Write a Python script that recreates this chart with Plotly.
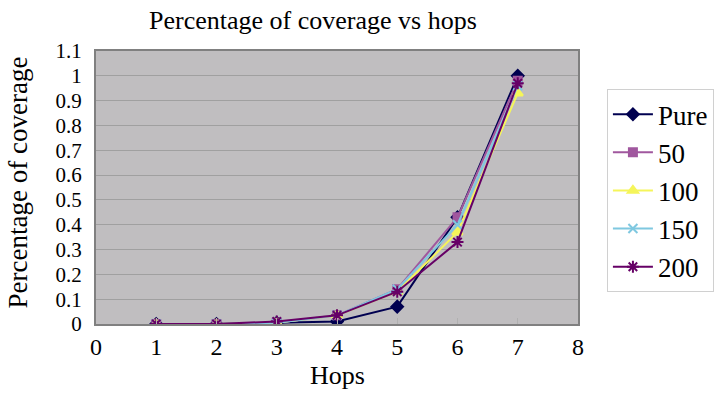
import plotly.graph_objects as go

hops = [1, 2, 3, 4, 5, 6, 7]
pure = [0, 0, 0.005, 0.01, 0.07, 0.43, 1.0]
s50 = [0, 0, 0.005, 0.035, 0.14, 0.43, 0.98]
s100 = [0, 0, 0.005, 0.035, 0.13, 0.37, 0.93]
s150 = [0, 0, 0.005, 0.035, 0.14, 0.40, 0.96]
s200 = [0, 0, 0.01, 0.035, 0.13, 0.33, 0.97]

y_ticks = [0, 0.1, 0.2, 0.3, 0.4, 0.5, 0.6, 0.7, 0.8, 0.9, 1, 1.1]
y_labels = ["0", "0.1", "0.2", "0.3", "0.4", "0.5", "0.6", "0.7", "0.8", "0.9", "1", "1.1"]

series = [
    ("Pure", pure, "#000050", "diamond", 9),
    ("50", s50, "#A0579E", "square", 8),
    ("100", s100, "#F5F55A", "triangle-up", 9),
    ("150", s150, "#7FC8E0", "x-thin-open", 9),
    ("200", s200, "#660066", "asterisk-open", 10),
]

fig = go.Figure()
for name, vals, col, sym, sz in series:
    fig.add_trace(go.Scatter(
        x=hops, y=vals, name=name, mode="lines+markers",
        line=dict(color=col, width=2),
        marker=dict(symbol=sym, size=sz, color=col, line=dict(color=col, width=2)),
    ))

FONT = "Liberation Serif, serif"
fig.update_layout(
    width=726, height=393,
    paper_bgcolor="white", plot_bgcolor="#C0BEC0",
    margin=dict(l=96, r=145, t=51, b=69),
    font=dict(family=FONT, color="black", size=22),
    title=dict(text="Percentage of coverage vs hops", x=0.431, xref="container",
               xanchor="center", y=0.949, yref="container", yanchor="middle",
               font=dict(size=26, family=FONT, color="black")),
    showlegend=True,
    legend=dict(x=1.06, xanchor="left", y=0.86, yanchor="top",
                bgcolor="white", bordercolor="#D0D0D0", borderwidth=1,
                font=dict(size=27, family=FONT, color="black"),
                tracegroupgap=0, itemwidth=40),
    xaxis=dict(range=[0, 8], dtick=1, showgrid=False, zeroline=False,
               showline=True, linecolor="#808080", linewidth=2, mirror=True,
               ticks="inside", ticklen=6, tickcolor="#B0B0B0",
               tickfont=dict(size=24, family=FONT, color="black"), ticklabelstandoff=0),
    yaxis=dict(range=[0, 1.1], showgrid=True, gridcolor="#A0A0A0",
               gridwidth=1, zeroline=False, showline=True, linecolor="#808080",
               linewidth=2, mirror=True, ticks="",
               tickfont=dict(size=21, family=FONT, color="black"),
               tickvals=y_ticks, ticktext=y_labels, ticklabelstandoff=8),
    annotations=[
        dict(text="Hops", xref="paper", yref="paper", x=0.5, y=-0.19,
             xanchor="center", yanchor="middle", showarrow=False,
             font=dict(size=26, family=FONT, color="black")),
        dict(text="Percentage of coverage", xref="paper", yref="paper",
             x=-0.161, y=0.52, xanchor="center", yanchor="middle", textangle=-90,
             showarrow=False, font=dict(size=27, family=FONT, color="black")),
    ],
)

fig.write_html("out.html", config={"displayModeBar": False},
               post_script="document.body.style.margin='0';document.body.style.padding='0';")
